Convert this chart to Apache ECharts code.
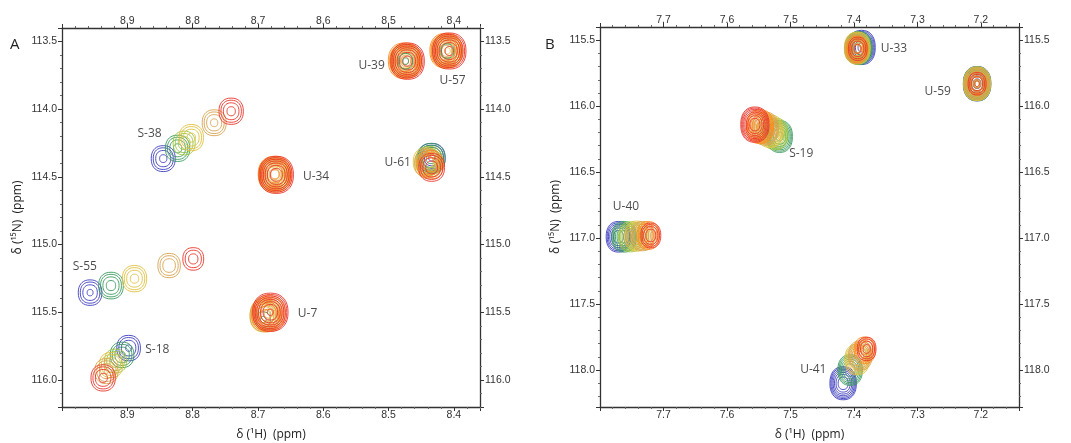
<!DOCTYPE html>
<html>
<head>
<meta charset="utf-8">
<script src="https://cdn.jsdelivr.net/npm/echarts@6/dist/echarts.min.js"></script>
<style>
html,body{margin:0;padding:0;background:#fff;}
#c{width:1071px;height:443px;}
</style>
</head>
<body>
<div id="c"></div>
<script>
// ---- DATA (ppm values) ----
// titration steps: 0 blue ... 6 red
const stepColors = ['#3c3cbe', '#3a9a5e', '#9cc440', '#e0c03c', '#d6a24e', '#ff8a1c', '#e8342a'];

// Panel A axis ranges (ppm)
const rangeA_H = [8.36, 9.0];
const rangeA_N = [113.4, 116.2];
// Panel B axis ranges (ppm)
const rangeB_H = [7.14, 7.8];
const rangeB_N = [115.4, 118.28];

// each peak: [δH, δN, contour levels (log intensity), titration step]
const S38 = [[8.845,114.365,3.3,0],[8.823,114.289,3.4,1],[8.813,114.25,2.8,2],[8.802,114.21,3.4,3],[8.767,114.10,3.3,4],[8.741,114.015,3.4,6]];
const S55 = [[8.957,115.355,3.2,0],[8.925,115.303,3.5,1],[8.889,115.252,3.4,3],[8.836,115.155,2.9,4],[8.799,115.106,2.5,6]];
const S18 = [[8.898,115.765,3.2,0],[8.908,115.815,3.2,1],[8.918,115.86,2.8,2],[8.925,115.89,3.1,3],[8.932,115.935,3.1,4],[8.937,115.985,3.4,6]];
const U39 = [[8.474,113.643,5,3],[8.474,113.643,5.6,4],[8.475,113.642,6.3,5],[8.471,113.645,6.5,6],[8.474,113.645,1.2,1]];
const U57 = [[8.41,113.569,5.2,3],[8.411,113.569,5.6,4],[8.412,113.568,6,5],[8.407,113.57,6.4,6],[8.41,113.57,1.0,1]];
const U34 = [[8.675,114.48,5,3],[8.675,114.481,5.6,4],[8.674,114.481,6.4,5],[8.672,114.485,6.8,6]];
const U7  = [[8.692,115.555,1.2,1],[8.69,115.53,4.8,3],[8.688,115.52,5.6,4],[8.684,115.51,6.4,5],[8.681,115.50,7.2,6]];
const U61 = [[8.434,114.36,4.2,0],[8.435,114.365,4.5,1],[8.438,114.38,4,2],[8.442,114.39,4,3],[8.44,114.40,4,4],[8.436,114.41,4,5],[8.434,114.43,3.8,6]];

const U33 = [[7.388,115.555,7.5,0],[7.392,115.56,7,1],[7.394,115.56,6.5,2],[7.395,115.56,6.5,3],[7.396,115.565,5.6,4],[7.395,115.57,4.5,5],[7.394,115.565,3.5,6]];
const U59 = [[7.206,115.83,7.6,0],[7.206,115.83,7.4,1],[7.206,115.83,7.2,2],[7.206,115.83,7.2,3],[7.206,115.83,6.4,4],[7.206,115.83,3.5,5],[7.206,115.83,3.2,6]];
const S19 = [[7.517,116.23,6.5,1],[7.524,116.21,6.5,2],[7.532,116.19,6.8,3],[7.54,116.17,7,4],[7.548,116.155,7.4,5],[7.556,116.14,8,6]];
const U40 = [[7.771,116.99,6,0],[7.762,116.99,6,1],[7.752,116.99,5.8,2],[7.742,116.985,5.8,3],[7.733,116.985,5.5,4],[7.724,116.98,5,5],[7.72,116.98,4,6]];
const U41 = [[7.417,118.10,7,0],[7.406,118.0,6,1],[7.395,117.92,6,3],[7.39,117.89,5.5,4],[7.383,117.85,4.5,5],[7.38,117.84,3.5,6]];

// peak labels: [name, δH, δN]
const labelsA = [['S-38',8.866,114.18],['U-34',8.611,114.50],['U-39',8.526,113.675],['U-57',8.402,113.79],['U-61',8.486,114.395],['S-55',8.965,115.165],['U-7',8.624,115.51],['S-18',8.854,115.776]];
const labelsB = [['U-33',7.337,115.565],['U-59',7.268,115.887],['S-19',7.483,116.36],['U-40',7.759,116.764],['U-41',7.464,117.993]];

// ---- STYLE ----
const ringStyle = [{a: 6.6, aspect: 1.08}, {a: 5, aspect: 1.25}];

function ringRenderer(panel) {
  return function (params, api) {
    const c = api.coord([api.value(0), api.value(1)]);
    const L = api.value(2), step = api.value(3);
    const st = ringStyle[panel];
    const children = [];
    const e = 2 / 2.3;
    for (let k = 0; k < L; k++) {
      const rx = st.a * Math.sqrt(L - k);
      const ry = rx * st.aspect;
      const pts = [];
      for (let i = 0; i < 36; i++) {
        const t = i / 36 * 2 * Math.PI;
        const ct = Math.cos(t), s = Math.sin(t);
        pts.push([c[0] + rx * Math.sign(ct) * Math.pow(Math.abs(ct), e),
                  c[1] + ry * Math.sign(s) * Math.pow(Math.abs(s), e)]);
      }
      children.push({type: 'polygon', shape: {points: pts},
        style: {fill: 'none', stroke: stepColors[step], lineWidth: 0.9}});
    }
    return {type: 'group', children: children};
  };
}

const axisColor = '#333';
const tickFont = 'Liberation Sans, Arial, sans-serif';
const textFont = 'Open Sans, Lato, sans-serif';

function mkLabel(range, step) {
  return function (v) {
    if (v <= range[0] + 1e-9 || v >= range[1] - 1e-9) return '';
    const q = v / step;
    return Math.abs(q - Math.round(q)) < 1e-6 ? v.toFixed(1) : '';
  };
}

function xAx(grid, pos, range, withName) {
  return {
    type: 'value', gridIndex: grid, position: pos, inverse: true,
    min: range[0], max: range[1], splitNumber: 6,
    name: withName ? 'δ (¹H)  (ppm)' : '', nameLocation: 'middle', nameGap: 22,
    nameTextStyle: {fontFamily: textFont, fontSize: 12, color: '#222'},
    axisLine: {show: true, onZero: false, lineStyle: {color: axisColor, width: 1.3}},
    axisTick: {show: true, inside: false, length: 4, lineStyle: {color: axisColor, width: 1}},
    minorTick: {show: true, splitNumber: 5, length: 2, lineStyle: {color: '#666', width: 1}},
    splitLine: {show: false}, minorSplitLine: {show: false},
    axisLabel: {fontFamily: tickFont, fontSize: 10.5, color: '#333', margin: pos === 'top' ? 1 : 3,
      showMinLabel: true, showMaxLabel: true, formatter: mkLabel(range, 0.1)}
  };
}
function yAx(grid, pos, range, withName) {
  return {
    type: 'value', gridIndex: grid, position: pos, inverse: true,
    min: range[0], max: range[1], splitNumber: 6,
    name: withName ? 'δ (¹⁵N)  (ppm)' : '', nameLocation: 'middle', nameGap: 38, nameRotate: 90,
    nameTextStyle: {fontFamily: textFont, fontSize: 12, color: '#222'},
    axisLine: {show: true, onZero: false, lineStyle: {color: axisColor, width: 1.3}},
    axisTick: {show: true, inside: false, length: 4, lineStyle: {color: axisColor, width: 1}},
    minorTick: {show: true, splitNumber: 5, length: 2, lineStyle: {color: '#666', width: 1}},
    splitLine: {show: false}, minorSplitLine: {show: false},
    axisLabel: {fontFamily: tickFont, fontSize: 10.5, color: '#333', margin: 5,
      showMinLabel: true, showMaxLabel: true, formatter: mkLabel(range, 0.5)}
  };
}

function ringSeries(panel, peaks) {
  return {
    type: 'custom', xAxisIndex: panel * 2, yAxisIndex: panel * 2, clip: true,
    renderItem: ringRenderer(panel), silent: true, animation: false,
    data: [].concat.apply([], peaks)
  };
}
function labelSeries(panel, labels) {
  return {
    type: 'scatter', xAxisIndex: panel * 2, yAxisIndex: panel * 2, symbolSize: 0, silent: true,
    data: labels.map(l => ({name: l[0], value: [l[1], l[2]]})),
    label: {show: true, position: 'inside', formatter: p => p.name,
      fontFamily: textFont, fontSize: 12, color: '#1a1a1a'}
  };
}

const chart = echarts.init(document.getElementById('c'), null, {renderer: 'canvas'});
chart.setOption({
  animation: false,
  backgroundColor: '#fff',
  grid: [
    {left: 62, top: 28, width: 418, height: 379, outerBoundsMode: 'none', containLabel: false},
    {left: 600, top: 27, width: 419, height: 380, outerBoundsMode: 'none', containLabel: false}
  ],
  xAxis: [xAx(0, 'bottom', rangeA_H, true), xAx(0, 'top', rangeA_H, false),
          xAx(1, 'bottom', rangeB_H, true), xAx(1, 'top', rangeB_H, false)],
  yAxis: [yAx(0, 'left', rangeA_N, true), yAx(0, 'right', rangeA_N, false),
          yAx(1, 'left', rangeB_N, true), yAx(1, 'right', rangeB_N, false)],
  graphic: [
    {type: 'text', left: 10, top: 37, style: {text: 'A', font: '15px ' + textFont, fill: '#222'}},
    {type: 'text', left: 545, top: 37, style: {text: 'B', font: '15px ' + textFont, fill: '#222'}}
  ],
  series: [
    ringSeries(0, [S38, S55, S18, U39, U57, U34, U7, U61]),
    ringSeries(1, [U33, U59, S19, U40, U41]),
    labelSeries(0, labelsA),
    labelSeries(1, labelsB)
  ]
});
</script>
</body>
</html>
